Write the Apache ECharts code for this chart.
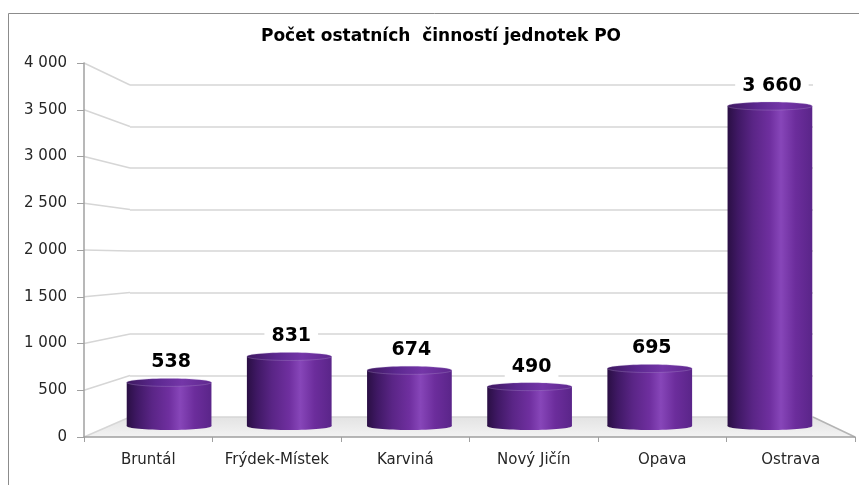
<!DOCTYPE html>
<html>
<head>
<meta charset="utf-8">
<script src="https://cdn.jsdelivr.net/npm/echarts@6/dist/echarts.min.js"></script>
<style>
  html, body { margin: 0; padding: 0; background: #ffffff; }
  #chart { width: 859px; height: 485px; }
</style>
</head>
<body>
<div id="chart"></div>
<script>
// Data
const categories = ['Bruntál', 'Frýdek-Místek', 'Karviná', 'Nový Jičín', 'Opava', 'Ostrava'];
const values = [538, 831, 674, 490, 695, 3660];
const yTicks = [0, 500, 1000, 1500, 2000, 2500, 3000, 3500, 4000];
const titleText = 'Počet ostatních  činností jednotek PO';

// Layout of the three planes of the 3D box (front axis, mid plane with bars, back wall)
const W = 859, H = 485;
const FRONT = { left: 84, right: 4, top: 63, bottom: 48 };
const MID = { left: 109, right: 29, top: 76, bottom: 55 };
const BACK = { left: 130, right: 46, top: 85, bottom: 68 };

const FONT = '"DejaVu Sans", Verdana, sans-serif';
const GRID_COLOR = '#d6d6d6';
const AXIS_COLOR = '#a0a0a0';

function fmt(v) {
  if (v < 1000) return String(v);
  const t = Math.floor(v / 1000), r = v % 1000;
  return t + ' ' + String(r).padStart(3, '0');
}

const yMin = yTicks[0], yMax = yTicks[yTicks.length - 1], yStep = yTicks[1] - yTicks[0];

function renderCylinder(params, api) {
  const idx = api.value(0);
  const v = api.value(1);
  const top = api.coord([idx, v]);
  const base = api.coord([idx, 0]);
  const band = api.size([1, 0])[0];
  const w = band * 0.705, rx = w / 2, ry = 4;
  const cx = top[0];
  const yTop = top[1];
  const yBot = base[1] - ry;
  const body = new echarts.graphic.LinearGradient(0, 0, 1, 0, [
    { offset: 0, color: '#2a0f44' },
    { offset: 0.12, color: '#3f1864' },
    { offset: 0.3, color: '#5a2586' },
    { offset: 0.5, color: '#6f2f9f' },
    { offset: 0.63, color: '#8746b9' },
    { offset: 0.8, color: '#6c2d9c' },
    { offset: 1, color: '#5a2589' }
  ]);
  const cap = new echarts.graphic.LinearGradient(0, 0, 1, 0, [
    { offset: 0, color: '#3d185f' },
    { offset: 0.35, color: '#5c2890' },
    { offset: 0.65, color: '#7436a8' },
    { offset: 1, color: '#5f288e' }
  ]);
  return {
    type: 'group',
    children: [
      { type: 'ellipse', shape: { cx: cx, cy: yBot, rx: rx, ry: ry }, style: { fill: body } },
      { type: 'rect', shape: { x: cx - rx, y: yTop, width: w, height: yBot - yTop }, style: { fill: body } },
      { type: 'ellipse', shape: { cx: cx, cy: yTop, rx: rx, ry: ry }, style: { fill: cap, stroke: 'rgba(190,170,215,0.3)', lineWidth: 0.5 } },
      {
        type: 'text',
        z2: 10,
        style: {
          text: fmt(v),
          x: cx + 2,
          y: yTop - ry - 16,
          align: 'center',
          verticalAlign: 'middle',
          fill: '#000000',
          fontFamily: FONT,
          fontWeight: 'bold',
          fontSize: 19,
          backgroundColor: '#ffffff',
          padding: [1, 7, 1, 7]
        }
      }
    ]
  };
}

const chart = echarts.init(document.getElementById('chart'), null, { renderer: 'canvas' });

const option = {
  animation: false,
  backgroundColor: '#ffffff',
  title: {
    text: titleText,
    left: 441,
    top: 28,
    textAlign: 'center',
    padding: 0,
    textStyle: { fontFamily: FONT, fontWeight: 'bold', fontSize: 17, color: '#000000' }
  },
  grid: [
    { left: FRONT.left, right: FRONT.right, top: FRONT.top, bottom: FRONT.bottom, containLabel: false },
    { left: BACK.left, right: BACK.right, top: BACK.top, bottom: BACK.bottom, containLabel: false },
    { left: MID.left, right: MID.right, top: MID.top, bottom: MID.bottom, containLabel: false }
  ],
  xAxis: [
    {
      gridIndex: 0, type: 'category', data: categories, boundaryGap: true,
      axisLine: { show: true, lineStyle: { color: AXIS_COLOR, width: 1.5 } },
      axisTick: { show: true, length: 5, alignWithLabel: false, lineStyle: { color: AXIS_COLOR } },
      axisLabel: { margin: 16, fontFamily: FONT, fontSize: 15, color: '#262626', interval: 0 },
      splitLine: { show: false }
    },
    { gridIndex: 1, type: 'category', data: categories, show: false },
    { gridIndex: 2, type: 'category', data: categories, show: false }
  ],
  yAxis: [
    {
      gridIndex: 0, type: 'value', min: yMin, max: yMax, interval: yStep,
      axisLine: { show: true, lineStyle: { color: AXIS_COLOR, width: 1.5 } },
      axisTick: { show: true, length: 7, lineStyle: { color: AXIS_COLOR } },
      axisLabel: { margin: 17, fontFamily: FONT, fontSize: 15, color: '#262626', formatter: fmt },
      splitLine: { show: false }
    },
    {
      gridIndex: 1, type: 'value', min: yMin, max: yMax, interval: yStep,
      axisLine: { show: false }, axisTick: { show: false }, axisLabel: { show: false },
      splitLine: { show: true, lineStyle: { color: GRID_COLOR, width: 1.5 } }
    },
    {
      gridIndex: 2, type: 'value', min: yMin, max: yMax, interval: yStep, show: false,
      splitLine: { show: false }
    }
  ],
  series: [
    {
      type: 'custom',
      name: 'cylinders',
      xAxisIndex: 2,
      yAxisIndex: 2,
      z: 5,
      renderItem: renderCylinder,
      data: values.map((v, i) => [i, v])
    }
  ]
};

chart.setOption(option);

// Floor, side connectors and outer frame, positioned from the axes' own scales
const fy = v => chart.convertToPixel({ yAxisIndex: 0 }, v);
const by = v => chart.convertToPixel({ yAxisIndex: 1 }, v);
const fL = FRONT.left, fR = W - FRONT.right, bL = BACK.left, bR = W - BACK.right;

const elements = [];
elements.push({
  type: 'polygon', z: -10, silent: true,
  shape: { points: [[bL, by(0)], [bR, by(0)], [fR, fy(0)], [fL, fy(0)]] },
  style: {
    fill: new echarts.graphic.LinearGradient(0, 0, 0, 1, [
      { offset: 0, color: '#e3e3e3' },
      { offset: 1, color: '#f3f3f3' }
    ])
  }
});
elements.push({
  type: 'line', z: -5, silent: true,
  shape: { x1: bR, y1: by(0), x2: fR, y2: fy(0) },
  style: { stroke: '#b4b4b4', lineWidth: 1.5 }
});
yTicks.forEach(v => {
  elements.push({
    type: 'line', z: -5, silent: true,
    shape: { x1: fL, y1: fy(v), x2: bL, y2: by(v) },
    style: { stroke: GRID_COLOR, lineWidth: 1.5 }
  });
});
elements.push({
  type: 'rect', z: 20, silent: true,
  shape: { x: 8.5, y: 13.5, width: W + 20, height: H + 20 },
  style: { fill: 'none', stroke: '#8c8c8c', lineWidth: 1 }
});

chart.setOption({ graphic: { elements: elements } });
</script>
</body>
</html>
